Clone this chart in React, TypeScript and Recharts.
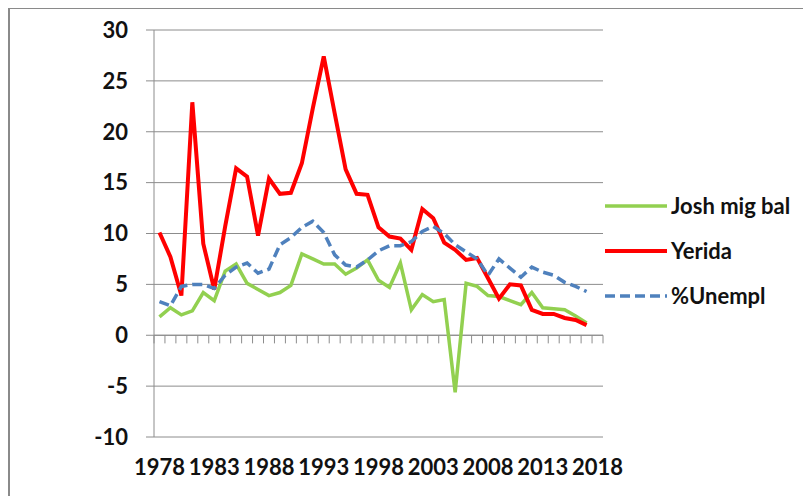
import { LineChart, Line, XAxis, YAxis, CartesianGrid, ReferenceLine } from "recharts"

const years = [
  "1978", "1979", "1980", "1981", "1982", "1983", "1984", "1985", "1986", "1987",
  "1988", "1989", "1990", "1991", "1992", "1993", "1994", "1995", "1996", "1997",
  "1998", "1999", "2000", "2001", "2002", "2003", "2004", "2005", "2006", "2007",
  "2008", "2009", "2010", "2011", "2012", "2013", "2014", "2015", "2016", "2017",
  "2018",
]

const joshMigBal = [
  1.8, 2.7, 2.0, 2.4, 4.2, 3.4, 6.3, 7.0, 5.1, 4.5,
  3.9, 4.2, 4.9, 8.0, 7.5, 7.0, 7.0, 6.0, 6.6, 7.4,
  5.4, 4.7, 7.1, 2.5, 4.0, 3.3, 3.5, -5.6, 5.1, 4.8,
  3.9, 3.8, 3.4, 3.0, 4.2, 2.7, 2.6, 2.5, 1.9, 1.2,
  null,
]

const yerida = [
  10.1, 7.7, 3.9, 22.9, 9.0, 4.5, 10.7, 16.4, 15.6, 9.8,
  15.4, 13.9, 14.0, 16.9, 22.3, 27.4, 21.8, 16.3, 13.9, 13.8,
  10.6, 9.7, 9.5, 8.4, 12.4, 11.5, 9.1, 8.4, 7.4, 7.6,
  5.6, 3.6, 5.0, 4.9, 2.5, 2.1, 2.1, 1.7, 1.5, 1.0,
  null,
]

const unempl = [
  3.3, 2.9, 4.8, 5.0, 5.0, 4.6, 5.9, 6.7, 7.1, 6.1,
  6.5, 8.9, 9.6, 10.6, 11.2, 10.1, 7.9, 6.9, 6.7, 7.4,
  8.3, 8.8, 8.8, 9.2, 10.2, 10.7, 10.0, 8.9, 8.2, 7.5,
  5.9, 7.5, 6.6, 5.7, 6.7, 6.2, 5.9, 5.2, 4.8, 4.3,
  null,
]

const yTicks = [-10, -5, 0, 5, 10, 15, 20, 25, 30]

const series = [
  { key: "josh", name: "Josh mig bal", color: "#92d050", width: 3.5, dash: undefined },
  { key: "yerida", name: "Yerida", color: "#ff0000", width: 4, dash: undefined },
  { key: "unempl", name: "%Unempl", color: "#4f81bd", width: 3.5, dash: "10 5" },
]

const data = years.map((year, i) => ({
  year,
  josh: joshMigBal[i],
  yerida: yerida[i],
  unempl: unempl[i],
}))

const font = "Lato, 'Open Sans', sans-serif"
const gray = "#8c8c8c"

// legend drawn outside the chart so it does not eat plot space
function LegendBox() {
  return (
    <div
      style={{
        position: "absolute",
        left: 597,
        top: 175,
        fontFamily: font,
        fontWeight: 700,
        fontSize: 22,
        color: "#111",
      }}
    >
      {series.map((s) => (
        <div key={s.key} style={{ display: "flex", alignItems: "center", height: 45 }}>
          <svg width={64} height={8} style={{ display: "block" }}>
            <line x1={0} y1={4} x2={62} y2={4} stroke={s.color} strokeWidth={s.width} strokeDasharray={s.dash} />
          </svg>
          <span style={{ marginLeft: 2, whiteSpace: "nowrap" }}>{s.name}</span>
        </div>
      ))}
    </div>
  )
}

export default function App() {
  return (
    <div style={{ position: "relative", width: 803, height: 488 }}>
      <div
        style={{
          position: "absolute",
          left: 0,
          top: -1,
          width: 803,
          height: 489,
          borderLeft: "2px solid #8a8a8a",
          borderTop: "2px solid #8a8a8a",
          boxSizing: "border-box",
        }}
      />
      <LineChart
        width={803}
        height={488}
        data={data}
        margin={{ top: 22, right: 208, bottom: 0, left: 0 }}
        style={{ position: "absolute", left: 0, top: 0 }}
      >
        <CartesianGrid vertical={false} stroke={gray} strokeWidth={1} />
        <XAxis
          dataKey="year"
          scale="band"
          interval={4}
          axisLine={false}
          tickLine={false}
          tickSize={0}
          tickMargin={22}
          height={59}
          tick={{ fontFamily: font, fontWeight: 700, fontSize: 22, fill: "#111" }}
        />
        <YAxis
          domain={[-10, 30]}
          ticks={yTicks}
          width={146}
          axisLine={{ stroke: gray }}
          tickLine={{ stroke: gray }}
          tickSize={8}
          tickMargin={18}
          tick={{ fontFamily: font, fontWeight: 700, fontSize: 22, fill: "#111" }}
        />
        <ReferenceLine y={0} stroke={gray} />
        {years.map((y) => (
          <ReferenceLine
            key={"t" + y}
            segment={[{ x: y, y: 0 }, { x: y, y: -0.8 }]}
            position="start"
            stroke={gray}
          />
        ))}
        <ReferenceLine
          segment={[{ x: years[years.length - 1], y: 0 }, { x: years[years.length - 1], y: -0.8 }]}
          position="end"
          stroke={gray}
        />
        {series.map((s) => (
          <Line
            key={s.key}
            dataKey={s.key}
            name={s.name}
            stroke={s.color}
            strokeWidth={s.width}
            strokeDasharray={s.dash}
            dot={false}
            activeDot={false}
            type="linear"
            isAnimationActive={false}
          />
        ))}
      </LineChart>
      <LegendBox />
    </div>
  )
}
